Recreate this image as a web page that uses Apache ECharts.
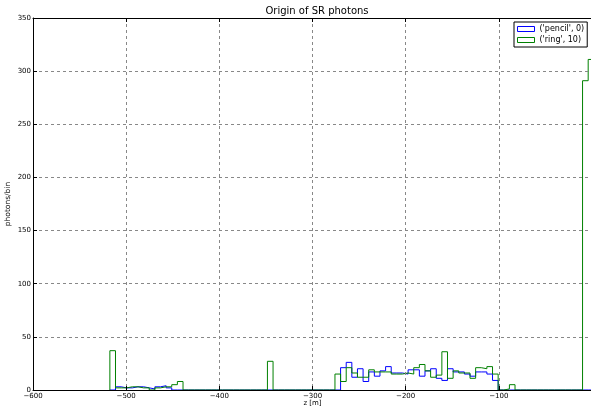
<!DOCTYPE html>
<html>
<head>
<meta charset="utf-8">
<script src="https://cdn.jsdelivr.net/npm/echarts@6/dist/echarts.min.js"></script>
<style>
html,body{margin:0;padding:0;background:#fff;}
#chart{width:591px;height:409px;}
</style>
</head>
<body>
<div id="chart"></div>
<script>
// ---- data ----
const binStart = -517.5;   // left edge of first bin [m]
const binWidth = 6.04;     // bin width [m]
const seriesNames = ["('pencil', 0)", "('ring', 10)"];
// counts per bin (86 bins)
const pencilCounts = [
  0, 3, 2, 2, 3, 3, 2, 1, 3, 4,
  2, 0, 0, 0, 0, 0, 0, 0, 0, 0,
  0, 0, 0, 0, 0, 0, 0, 0, 0, 0,
  0, 0, 0, 0, 0, 0, 0, 0, 0, 0,
  0, 21, 26, 12, 20, 8, 17, 13, 18, 22,
  16, 16, 15, 19, 19, 13, 18, 20, 11, 9,
  20, 17, 17, 15, 13, 17, 17, 15, 9, 0,
  0, 0, 0, 0, 0, 0, 0, 0, 0, 0,
  0, 0, 0, 0, 0, 0
];
const ringCounts = [
  37, 2, 2, 3, 3, 2, 2, 0, 2, 3,
  3, 5, 8, 0, 0, 0, 0, 0, 0, 0,
  0, 0, 0, 0, 0, 0, 0, 0, 27, 0,
  0, 0, 0, 0, 0, 0, 0, 0, 0, 0,
  15, 8, 21, 16, 12, 12, 19, 17, 17, 17,
  15, 15, 16, 15, 21, 24, 18, 12, 14, 36,
  11, 18, 16, 16, 11, 21, 20, 22, 15, 0,
  1, 5, 0, 0, 0, 0, 0, 0, 0, 0,
  0, 0, 0, 0, 291, 311
];
const xTicks = [-600, -500, -400, -300, -200, -100, 0];
const yTicks = [0, 50, 100, 150, 200, 250, 300, 350];

function stepPoints(counts) {
  const pts = [[binStart, 0]];
  counts.forEach((c, i) => pts.push([binStart + i * binWidth, c]));
  const end = binStart + counts.length * binWidth;
  pts.push([end, counts[counts.length - 1]]);
  pts.push([end, 0]);
  return pts;
}

const FONT = 'DejaVu Sans';
const chart = echarts.init(document.getElementById('chart'), null, {renderer: 'canvas'});
const fmtMinus = v => (v < 0 ? '\u2212' + Math.abs(v) : String(v));

chart.setOption({
  animation: false,
  backgroundColor: '#fff',
  title: {
    text: 'Origin of SR photons',
    left: 312, top: 1, textAlign: 'center',
    textStyle: {fontFamily: FONT, fontSize: 10, fontWeight: 'normal', color: '#000'}
  },
  grid: {left: 33, top: 18, right: -1, bottom: 19, containLabel: false, outerBoundsMode: 'none'},
  legend: {
    orient: 'vertical',
    left: 514, top: 22,
    padding: [3, 3, 3, 3],
    itemWidth: 17, itemHeight: 5, itemGap: 3,
    backgroundColor: '#fff', borderColor: '#000', borderWidth: 1, borderRadius: 0,
    textStyle: {fontFamily: FONT, fontSize: 8, color: '#000', padding: [0, 0, 0, 0]},
    data: [
      {name: seriesNames[0], icon: 'rect', itemStyle: {color: '#fff', borderColor: '#0000ff', borderWidth: 1}},
      {name: seriesNames[1], icon: 'rect', itemStyle: {color: '#fff', borderColor: '#008000', borderWidth: 1}}
    ]
  },
  xAxis: [{
    type: 'value', min: xTicks[0], max: xTicks[xTicks.length - 1], interval: 100, z: 10,
    name: 'z [m]', nameLocation: 'middle', nameGap: 10, nameMoveOverlap: false,
    nameTextStyle: {fontFamily: FONT, fontSize: 7, color: '#000'},
    axisLine: {show: true, onZero: false, lineStyle: {color: '#000', width: 1}},
    axisTick: {show: true, inside: true, length: 4, lineStyle: {color: '#000'}},
    axisLabel: {fontFamily: FONT, fontSize: 7, color: '#000', margin: 3,
      formatter: v => (v === 0 ? '' : fmtMinus(v))},
    splitLine: {show: true, lineStyle: {color: '#888', type: [3, 3], width: 1}}
  }, {
    type: 'value', position: 'top', min: xTicks[0], max: xTicks[xTicks.length - 1], interval: 100, z: 10,
    axisLine: {show: true, onZero: false, lineStyle: {color: '#000', width: 1}},
    axisTick: {show: true, inside: true, length: 4, lineStyle: {color: '#000'}},
    axisLabel: {show: false}, splitLine: {show: false}
  }],
  yAxis: {
    type: 'value', min: yTicks[0], max: yTicks[yTicks.length - 1], interval: 50, z: 10,
    name: 'photons/bin', nameLocation: 'middle', nameGap: 21, nameRotate: 90, nameMoveOverlap: false,
    nameTextStyle: {fontFamily: FONT, fontSize: 7.5, color: '#000'},
    axisLine: {show: true, onZero: false, lineStyle: {color: '#000', width: 1}},
    axisTick: {show: true, inside: true, length: 4, lineStyle: {color: '#000'}},
    axisLabel: {fontFamily: FONT, fontSize: 7, color: '#000', margin: 2},
    splitLine: {show: true, lineStyle: {color: '#888', type: [3, 3], width: 1}}
  },
  series: [{
    name: seriesNames[0], type: 'line', step: 'end', symbol: 'none', clip: true,
    data: stepPoints(pencilCounts),
    lineStyle: {color: '#0000ff', width: 1}, itemStyle: {color: '#0000ff'}, z: 3
  }, {
    name: seriesNames[1], type: 'line', step: 'end', symbol: 'none', clip: true,
    data: stepPoints(ringCounts),
    lineStyle: {color: '#008000', width: 1}, itemStyle: {color: '#008000'}, z: 4
  }]
});
</script>
</body>
</html>
